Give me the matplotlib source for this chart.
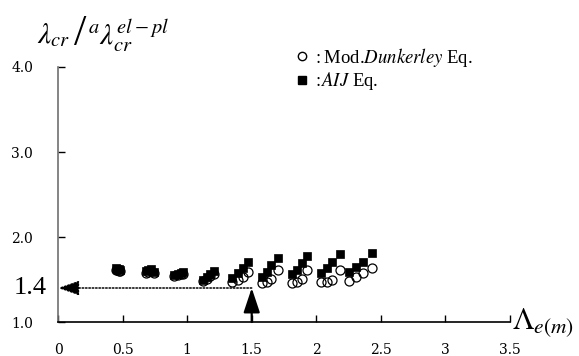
import numpy as np
import matplotlib.pyplot as plt
from matplotlib.lines import Line2D

plt.rcParams['font.family'] = 'DejaVu Serif'
plt.rcParams['mathtext.fontset'] = 'stix'

# slenderness ratio for each specimen (9 groups of 4)
lam = [0.45, 0.46, 0.47, 0.48,
       0.68, 0.70, 0.72, 0.74,
       0.90, 0.93, 0.95, 0.97,
       1.12, 1.15, 1.18, 1.21,
       1.35, 1.39, 1.43, 1.47,
       1.58, 1.62, 1.65, 1.70,
       1.81, 1.85, 1.89, 1.93,
       2.04, 2.08, 2.12, 2.18,
       2.25, 2.31, 2.36, 2.43]

# AIJ equation
aij = [1.63, 1.62, 1.62, 1.61,
       1.60, 1.61, 1.62, 1.59,
       1.55, 1.56, 1.58, 1.59,
       1.49, 1.53, 1.56, 1.60,
       1.52, 1.58, 1.64, 1.71,
       1.53, 1.59, 1.67, 1.75,
       1.56, 1.61, 1.69, 1.78,
       1.58, 1.64, 1.71, 1.80,
       1.59, 1.65, 1.71, 1.81]

# modified Dunkerley equation
dunk = [1.61, 1.61, 1.60, 1.60,
        1.58, 1.59, 1.60, 1.58,
        1.54, 1.55, 1.56, 1.57,
        1.48, 1.51, 1.54, 1.57,
        1.47, 1.49, 1.53, 1.59,
        1.46, 1.47, 1.51, 1.61,
        1.46, 1.47, 1.51, 1.61,
        1.47, 1.47, 1.49, 1.61,
        1.48, 1.53, 1.58, 1.64]

xticks = [0, 0.5, 1, 1.5, 2, 2.5, 3, 3.5]
xticklabels = ['0', '0.5', '1', '1.5', '2', '2.5', '3', '3.5']
yticks = [1.0, 2.0, 3.0, 4.0]
yticklabels = ['1.0', '2.0', '3.0', '4.0']

lam_ref = 1.5
ratio_ref = 1.4

fig = plt.figure(figsize=(5.79, 3.56), dpi=100)
ax = fig.add_axes([0.1002, 0.0955, 0.7806, 0.7163])

ax.plot(lam, dunk, 'o', ms=6.5, mfc='none', mec='k', mew=0.9, zorder=3)
ax.plot(lam, aij, 's', ms=6, mfc='k', mec='k', mew=0.5, zorder=4)

ax.set_xlim(0, 3.5)
ax.set_ylim(1.0, 4.0)

for s in ['top', 'right']:
    ax.spines[s].set_visible(False)
ax.spines['left'].set_color('#707070')
ax.spines['left'].set_linewidth(1.2)
ax.spines['bottom'].set_linewidth(1.2)

ax.set_xticks(xticks)
ax.set_xticklabels(xticklabels, fontsize=10)
ax.set_yticks(yticks)
ax.set_yticklabels(yticklabels, fontsize=10)
ax.tick_params(direction='in', length=5, width=1)
ax.tick_params(axis='x', pad=15)
ax.tick_params(axis='y', pad=18)

# reference value markers
ax.annotate('', xy=(0, ratio_ref), xytext=(lam_ref, ratio_ref),
            arrowprops=dict(arrowstyle='-|>,head_length=1.3,head_width=0.45',
                            linestyle=(0, (1, 1.2)), lw=1.1, color='k',
                            shrinkA=0, shrinkB=0))
ax.annotate('', xy=(lam_ref, ratio_ref), xytext=(lam_ref, 1.0),
            arrowprops=dict(arrowstyle='-|>,head_length=1.5,head_width=0.5',
                            lw=1.6, color='k', shrinkA=0, shrinkB=0))
ax.text(-0.09, ratio_ref, '1.4', family='Liberation Serif', fontsize=19,
        ha='right', va='center', clip_on=False)

# axis titles
fig.text(0.064, 0.90, r'$\lambda_{cr}$', fontsize=21, ha='left', va='center')
fig.text(0.128, 0.905, '/', family='Liberation Serif', fontsize=32,
         ha='left', va='center')
fig.text(0.152, 0.90, r'$^{a}\lambda_{cr}^{el-pl}$', fontsize=21,
         ha='left', va='center')
fig.text(0.885, 0.095, r'$\Lambda_{e(m)}$', fontsize=22, ha='left', va='center')

handles = [Line2D([], [], marker='o', ls='none', ms=6, mfc='none', mec='k'),
           Line2D([], [], marker='s', ls='none', ms=5.5, mfc='k', mec='k')]
labels = [r'$:$Mod.$\it{Dunkerley}$ Eq.', r'$:\!\it{AIJ}$ Eq.']
ax.legend(handles, labels, loc='upper left', bbox_to_anchor=(0.49, 1.15),
          frameon=False, prop={'family': 'Liberation Serif', 'size': 13.5},
          handlelength=0.6, handletextpad=0.3, labelspacing=0.1)

fig.savefig('out.png', dpi=100)
